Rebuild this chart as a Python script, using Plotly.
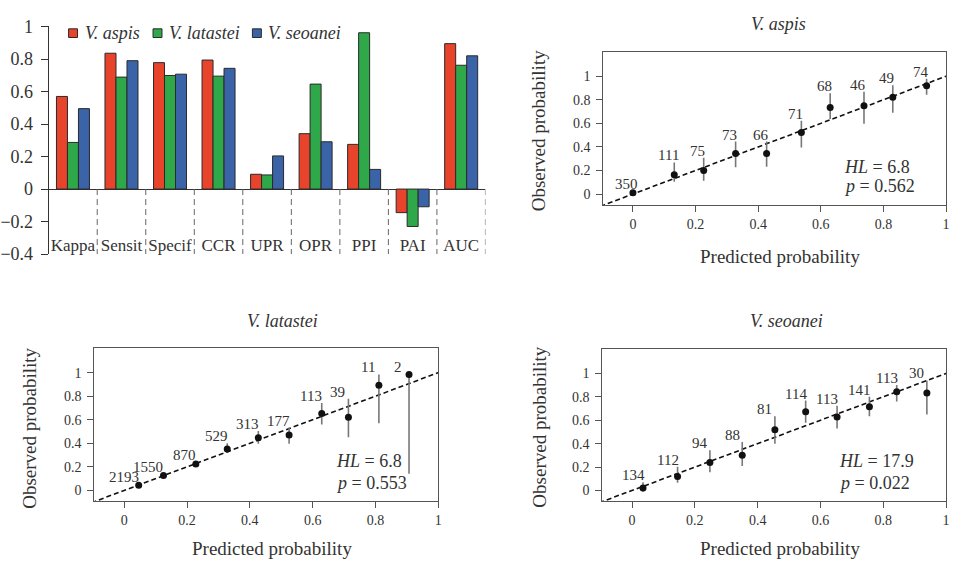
import plotly.graph_objects as go

# ---------------- data ----------------
metrics = ["Kappa", "Sensit", "Specif", "CCR", "UPR", "OPR", "PPI", "PAI", "AUC"]
species = ["V. aspis", "V. latastei", "V. seoanei"]
aspis_vals = [0.570, 0.836, 0.778, 0.794, 0.091, 0.341, 0.275, -0.145, 0.895]
latastei_vals = [0.287, 0.689, 0.699, 0.695, 0.087, 0.646, 0.962, -0.230, 0.762]
seoanei_vals = [0.495, 0.790, 0.707, 0.743, 0.204, 0.291, 0.121, -0.109, 0.820]

aspis_pred = [0.0, 0.132, 0.226, 0.328, 0.427, 0.538, 0.630, 0.738, 0.830, 0.938]
aspis_obs = [0.010, 0.164, 0.200, 0.344, 0.344, 0.522, 0.735, 0.749, 0.822, 0.920]
aspis_lo = [0.000, 0.104, 0.112, 0.227, 0.232, 0.396, 0.637, 0.596, 0.691, 0.842]
aspis_hi = [0.030, 0.268, 0.309, 0.445, 0.445, 0.623, 0.855, 0.869, 0.923, 0.978]
aspis_n = [350, 111, 75, 73, 66, 71, 68, 46, 49, 74]
aspis_hl = ("6.8", "0.562")

latastei_pred = [0.046, 0.125, 0.228, 0.328, 0.427, 0.525, 0.629, 0.714, 0.811, 0.907]
latastei_obs = [0.044, 0.126, 0.224, 0.352, 0.448, 0.470, 0.653, 0.620, 0.893, 0.984]
latastei_lo = [0.035, 0.115, 0.205, 0.320, 0.396, 0.396, 0.560, 0.451, 0.571, 0.142]
latastei_hi = [0.055, 0.140, 0.245, 0.400, 0.505, 0.533, 0.742, 0.779, 0.984, 0.990]
latastei_n = [2193, 1550, 870, 529, 313, 177, 113, 39, 11, 2]
latastei_hl = ("6.8", "0.553")

seoanei_pred = [0.035, 0.145, 0.248, 0.351, 0.455, 0.553, 0.653, 0.756, 0.843, 0.939]
seoanei_obs = [0.022, 0.120, 0.238, 0.300, 0.519, 0.672, 0.628, 0.716, 0.844, 0.833]
seoanei_lo = [-0.010, 0.066, 0.156, 0.210, 0.400, 0.579, 0.530, 0.634, 0.760, 0.650]
seoanei_hi = [0.070, 0.202, 0.344, 0.415, 0.634, 0.768, 0.724, 0.800, 0.900, 0.940]
seoanei_n = [134, 112, 94, 88, 81, 114, 113, 141, 113, 30]
seoanei_hl = ("17.9", "0.022")

# ---------------- styles ----------------
W, H = 953, 577
FONT = "Liberation Serif"
TXT = "#333333"
bar_colors = ["#E8432B", "#2FA84A", "#3B63A7"]


def px(x):
    return x / W


def py(y):
    return 1 - y / H


fig = go.Figure()

# ---------------- bar chart ----------------
for name, vals, col in zip(species, [aspis_vals, latastei_vals, seoanei_vals], bar_colors):
    fig.add_trace(go.Bar(x=metrics, y=vals, name=name, marker=dict(color=col, line=dict(color="#2a2a2a", width=1)),
                         xaxis="x", yaxis="y", showlegend=False))

shapes = []
annotations = []
# dashed separators below zero
for i in range(len(metrics)):
    shapes.append(dict(type="line", xref="x", yref="y", x0=i + 0.5, x1=i + 0.5, y0=0, y1=-0.4,
                       line=dict(color="#666666", width=1, dash="6px,4px")))

# manual legend
leg_sq = [67, 152, 252]
leg_tx = [82, 166, 266]
for name, col, sx, tx in zip(species, bar_colors, leg_sq, leg_tx):
    shapes.append(dict(type="rect", xref="paper", yref="paper", x0=px(sx), x1=px(sx + 9), y0=py(28.5), y1=py(19.5),
                       fillcolor=col, line=dict(color="#2a2a2a", width=1)))
    annotations.append(dict(xref="paper", yref="paper", x=px(tx), y=py(24), xanchor="left", yanchor="middle",
                            text="<i>%s</i>" % name, showarrow=False, font=dict(family=FONT, size=18, color=TXT)))

# ---------------- calibration panels ----------------
panels = [
    ("x2", "y2", aspis_pred, aspis_obs, aspis_lo, aspis_hi, aspis_n, aspis_hl, -6, (0.669, 0.23, 0.066)),
    ("x3", "y3", latastei_pred, latastei_obs, latastei_lo, latastei_hi, latastei_n, latastei_hl, -11, (0.667, 0.248, 0.06)),
    ("x4", "y4", seoanei_pred, seoanei_obs, seoanei_lo, seoanei_hi, seoanei_n, seoanei_hl, -10, (0.653, 0.248, 0.068)),
]
for xa, ya, pr, ob, lo, hi, n, hl, xs, hlpos in panels:
    fig.add_trace(go.Scatter(x=[-0.2, 1.1], y=[-0.2, 1.1], mode="lines", xaxis=xa, yaxis=ya, showlegend=False,
                             line=dict(color="#111111", width=1.6, dash="5px,3px"), hoverinfo="skip"))
    fig.add_trace(go.Scatter(x=pr, y=ob, mode="markers", xaxis=xa, yaxis=ya, showlegend=False,
                             marker=dict(color="#111111", size=7),
                             error_y=dict(type="data", symmetric=False,
                                          array=[h - o for h, o in zip(hi, ob)],
                                          arrayminus=[o - l for o, l in zip(ob, lo)],
                                          color="#777777", thickness=1.6, width=0)))
    for xv, hv, nv in zip(pr, hi, n):
        extra = 4 * max(0, len(str(nv)) - 3)
        annotations.append(dict(xref=xa, yref=ya, x=xv, y=hv, text=str(nv), showarrow=False,
                                xanchor="center", yanchor="middle", xshift=xs - extra, yshift=7,
                                font=dict(family=FONT, size=15, color=TXT)))
    annotations.append(dict(xref=xa, yref=ya, x=hlpos[0], y=hlpos[1], text="<i>HL</i> = %s" % hl[0],
                            showarrow=False, xanchor="left", yanchor="middle",
                            font=dict(family=FONT, size=18, color=TXT)))
    annotations.append(dict(xref=xa, yref=ya, x=hlpos[0], y=hlpos[2], text="<i>p</i> = %s" % hl[1],
                            showarrow=False, xanchor="left", yanchor="middle",
                            font=dict(family=FONT, size=18, color=TXT)))

# panel titles and axis titles
panel_titles = ["V. aspis", "V. latastei", "V. seoanei"]
title_pos = [(781, 15), (282, 322), (789, 322)]
obs_pos = [(540, 125), (28, 433), (540, 432)]
pred_pos = [(783, 255), (272, 558), (783, 558)]
for t, tp, op, pp in zip(panel_titles, title_pos, obs_pos, pred_pos):
    annotations.append(dict(xref="paper", yref="paper", x=px(tp[0]), y=py(tp[1]), text="<i>%s</i>" % t,
                            showarrow=False, xanchor="center", yanchor="middle",
                            font=dict(family=FONT, size=18, color=TXT)))
    annotations.append(dict(xref="paper", yref="paper", x=px(op[0]), y=py(op[1]), text="Observed probability",
                            showarrow=False, xanchor="center", yanchor="middle", textangle=-90,
                            font=dict(family=FONT, size=19, color=TXT)))
    annotations.append(dict(xref="paper", yref="paper", x=px(pp[0]), y=py(pp[1]), text="Predicted probability",
                            showarrow=False, xanchor="center", yanchor="middle",
                            font=dict(family=FONT, size=19, color=TXT)))

cal_ticks = [0, 0.2, 0.4, 0.6, 0.8, 1]
cal_ticktext = ["0", "0.2", "0.4", "0.6", "0.8", "1"]


def cal_x(dom, anchor):
    return dict(domain=dom, anchor=anchor, range=[-0.095, 1.0], tickvals=cal_ticks, ticktext=cal_ticktext,
                showline=True, mirror=True, linecolor="#555555", linewidth=1, ticks="outside", ticklen=6,
                tickcolor="#555555", showgrid=False, zeroline=False,
                tickfont=dict(family=FONT, size=14, color=TXT))


def cal_y(dom, anchor):
    return dict(domain=dom, anchor=anchor, range=[-0.093, 1.21], tickvals=cal_ticks, ticktext=cal_ticktext,
                showline=True, mirror=True, linecolor="#555555", linewidth=1, ticks="outside", ticklen=6,
                tickcolor="#555555", showgrid=False, zeroline=False, ticklabelstandoff=3,
                tickfont=dict(family=FONT, size=14, color=TXT))


fig.update_layout(
    width=W, height=H, margin=dict(l=0, r=0, t=0, b=0),
    paper_bgcolor="white", plot_bgcolor="white",
    barmode="group", bargap=0.32, bargroupgap=0,
    font=dict(family=FONT, color=TXT),
    xaxis=dict(domain=[px(47), px(486.5)], anchor="free", position=py(231), range=[-0.5, 8.5],
               showline=False, ticks="", showgrid=False, zeroline=False,
               tickfont=dict(family=FONT, size=17, color=TXT)),
    yaxis=dict(domain=[py(253), py(17)], anchor="x", range=[-0.401, 1.001], dtick=0.2, tick0=0,
               showline=True, linecolor="#333333", linewidth=1, ticks="outside", ticklen=7,
               tickcolor="#333333", showgrid=False, zeroline=True, zerolinecolor="#333333", zerolinewidth=1,
               ticklabelstandoff=4, tickfont=dict(family=FONT, size=18, color=TXT)),
    xaxis2=cal_x([px(605), px(950)], "y2"),
    yaxis2=cal_y([py(202), py(43)], "x2"),
    xaxis3=cal_x([px(93), px(439)], "y3"),
    yaxis3=cal_y([py(509), py(350)], "x3"),
    xaxis4=cal_x([px(604), px(950)], "y4"),
    yaxis4=cal_y([py(509), py(351)], "x4"),
    shapes=shapes, annotations=annotations,
)

fig.write_html("out.html")
